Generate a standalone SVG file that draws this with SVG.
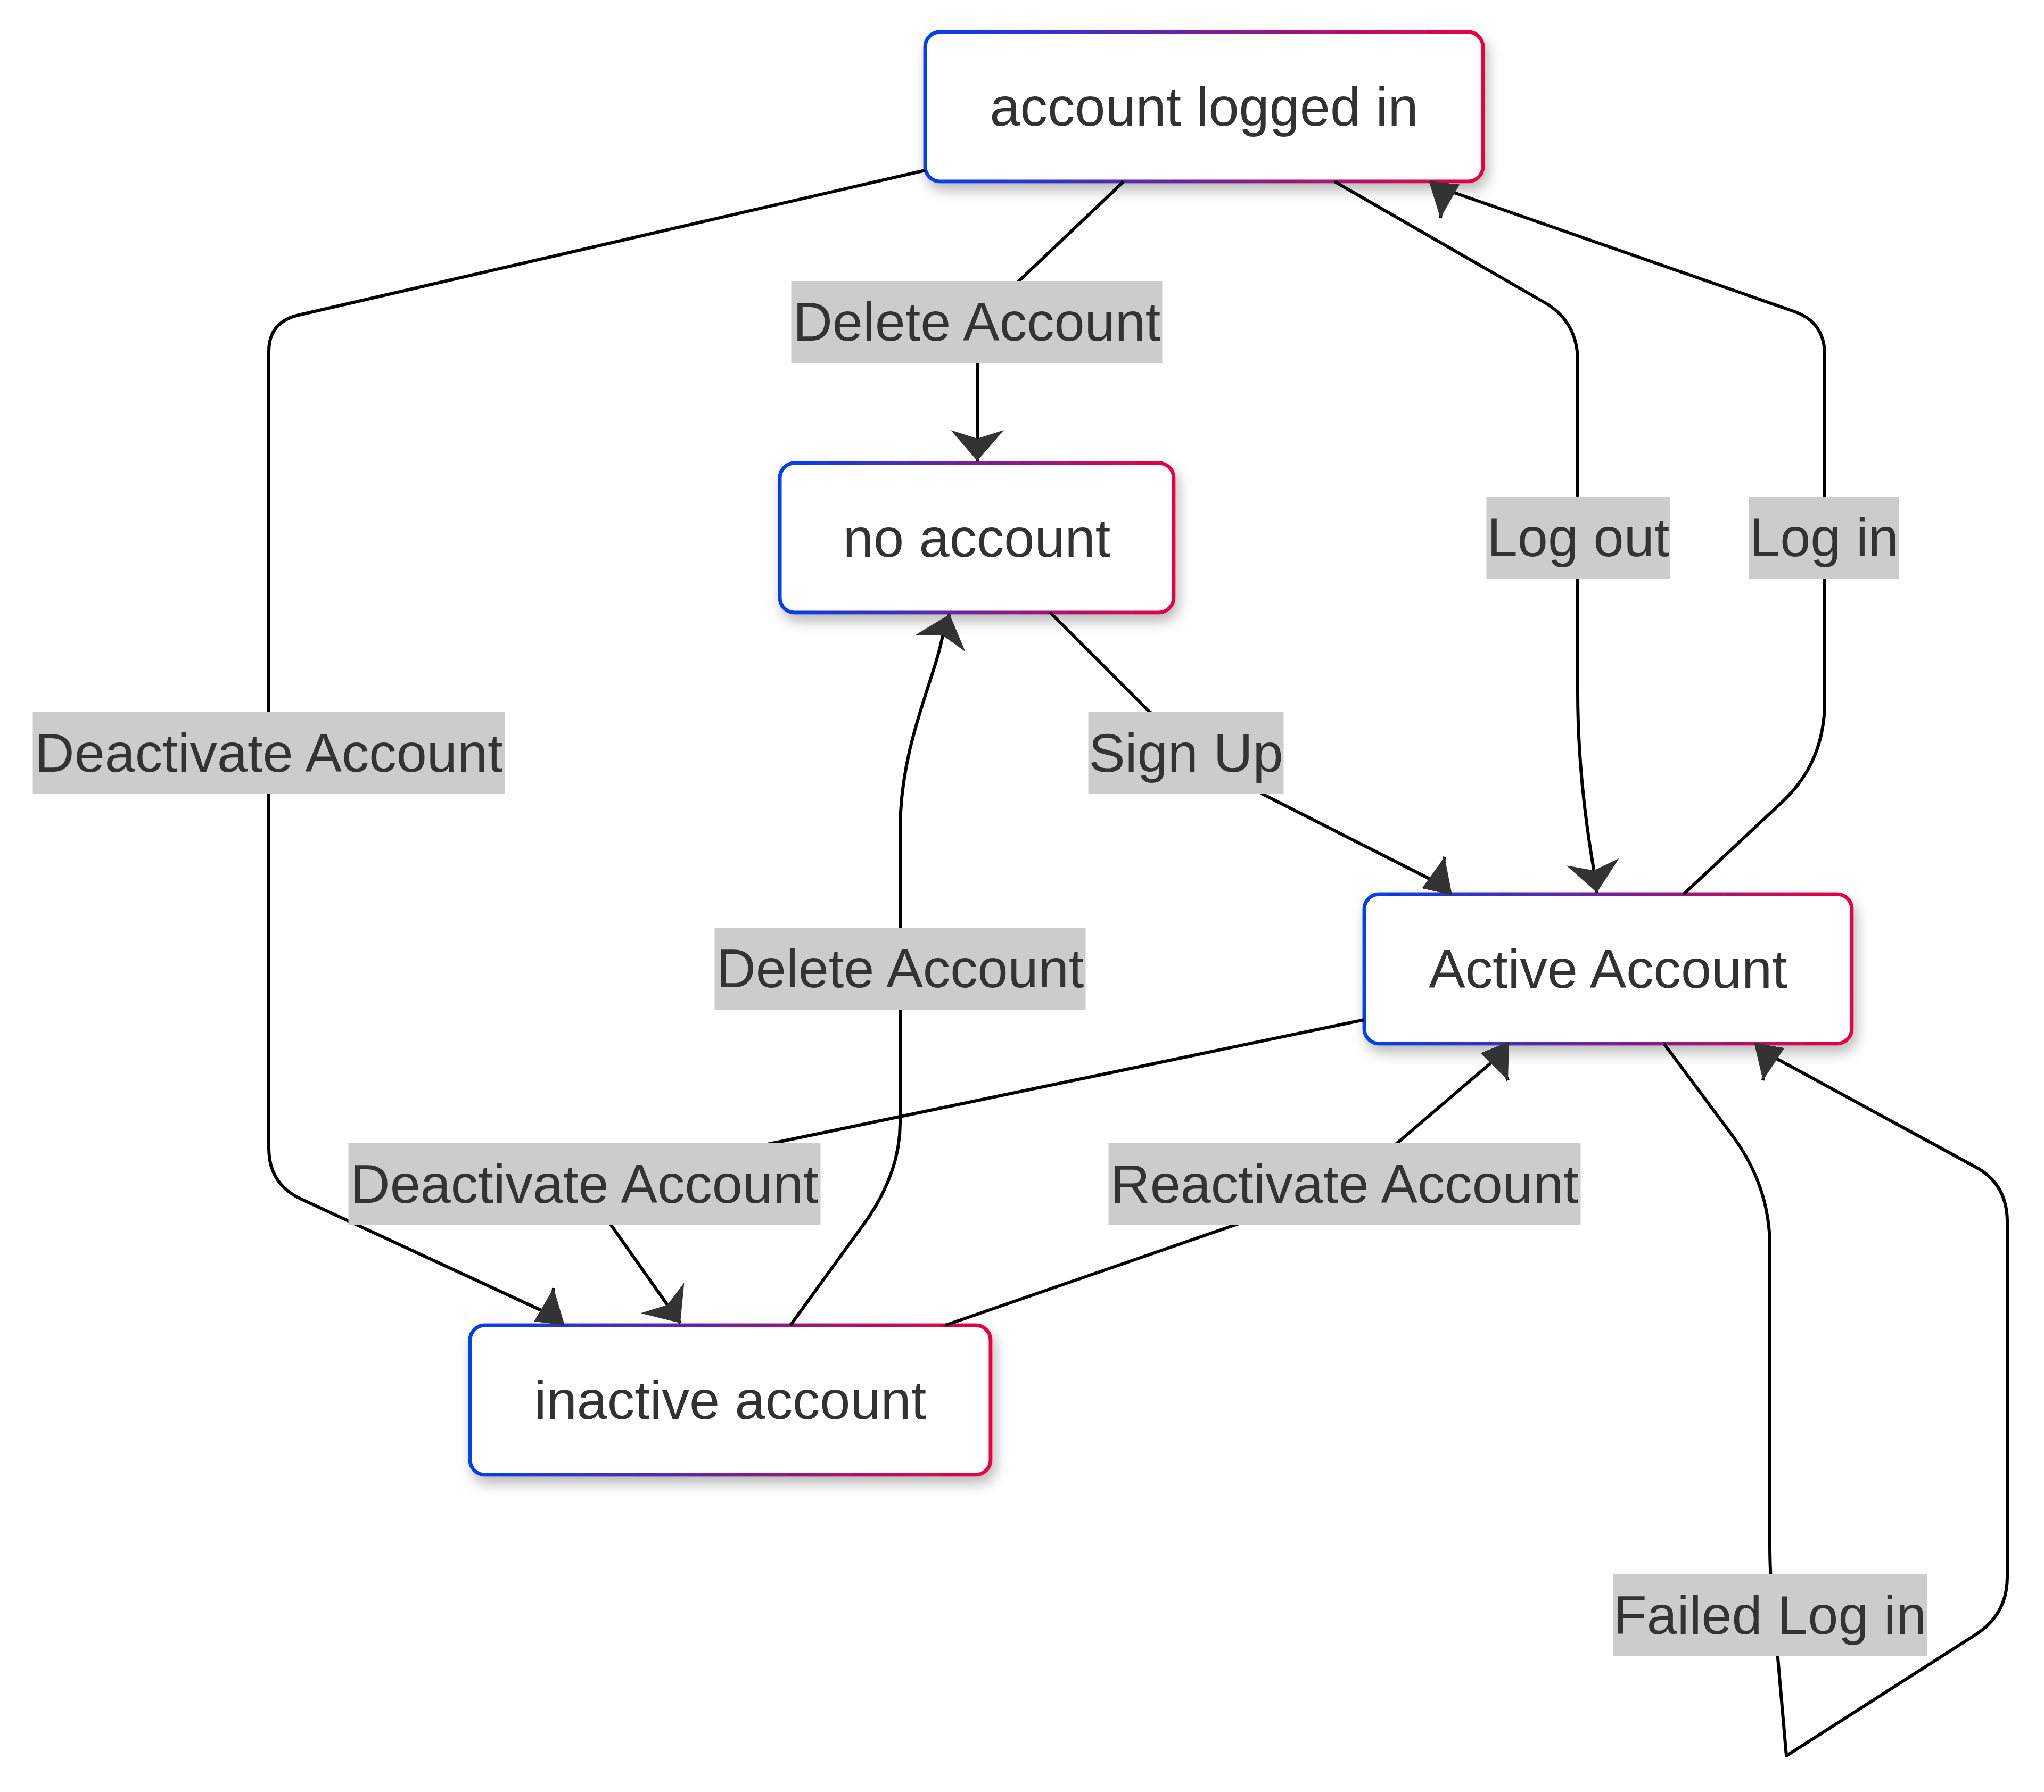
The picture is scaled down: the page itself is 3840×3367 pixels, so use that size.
<svg xmlns="http://www.w3.org/2000/svg" width="3840" height="3367" viewBox="0 0 3840 3367">
<style>
.edge{fill:none;stroke:#000;stroke-width:6;stroke-linejoin:round}
.fwd{marker-end:url(#barb)}
.rev{marker-end:url(#rev)}
.lbl-bg{fill:#cccccc}
.txt{font-family:"Liberation Sans",Arial,sans-serif;font-size:102.7px;fill:#333333;text-anchor:middle}
.node rect{fill:#ffffff;stroke:url(#grad);stroke-width:7}
.node{filter:url(#shadow)}
</style>
<defs>
<linearGradient id="grad" x1="0" y1="0" x2="1" y2="0">
<stop offset="0" stop-color="#0042eb"/>
<stop offset="1" stop-color="#eb0042"/>
</linearGradient>
<filter id="shadow" x="-10%" y="-20%" width="120%" height="160%">
<feDropShadow dx="6" dy="13" stdDeviation="12" flood-color="#b9b9b9" flood-opacity="1"/>
</filter>
<marker id="barb" viewBox="0 0 58 100" refX="58" refY="50" markerWidth="58" markerHeight="100" markerUnits="userSpaceOnUse" orient="auto">
<path d="M58,50 L0,100 L16,50 L0,0 Z" fill="#333333"/>
</marker>
<marker id="rev" viewBox="0 0 67 58" refX="67" refY="29" markerWidth="67" markerHeight="58" markerUnits="userSpaceOnUse" orient="auto">
<path d="M67,29 L0,58 L0,0 Z" fill="#333333"/>
</marker>
</defs>
<rect x="0" y="0" width="3840" height="3367" fill="#ffffff"/>
<g id="node-logged-in" class="node"><rect x="1738" y="60" width="1048" height="281" rx="28" ry="28"/><text class="txt" x="2262" y="236">account logged in</text></g>
<g id="node-no-account" class="node"><rect x="1465" y="870" width="740" height="281" rx="28" ry="28"/><text class="txt" x="1835" y="1046">no account</text></g>
<g id="node-active" class="node"><rect x="2563" y="1680" width="916" height="281" rx="28" ry="28"/><text class="txt" x="3021" y="1856">Active Account</text></g>
<g id="node-inactive" class="node"><rect x="883" y="2490" width="978" height="281" rx="28" ry="28"/><text class="txt" x="1372" y="2666">inactive account</text></g>
<g id="connectors">
<path id="e-deactivate-1" class="edge rev" d="M1738,320 L561,592 Q505,605 505,660 L505,2157 Q505,2225 566,2253 L1034,2470 L1040,2420"/>
<path id="e-delete-1" class="edge fwd" d="M2111,341 L1890,551 Q1836,602 1836,660 L1836,866"/>
<path id="e-logout" class="edge fwd" d="M2507,341 L2901,568 Q2964,604 2964,679 L2964,1300 C2964,1420 2978,1540 2994,1633 L3000,1677"/>
<path id="e-login" class="edge rev" d="M3163,1680 L3350,1505 Q3428,1431 3428,1318 L3428,667 Q3428,605 3370,585 L2712,355 L2706,410"/>
<path id="e-signup" class="edge rev" d="M1972,1150 L2159,1337 L2374,1493 L2703,1660 L2714,1610"/>
<path id="e-delete-2" class="edge fwd" d="M1485,2490 L1630,2290 Q1691,2200 1691,2110 L1691,1560 C1691,1400 1755,1280 1771,1194 L1784,1154"/>
<path id="e-deactivate-2" class="edge fwd" d="M2563,1916 L1250,2190 Q1092,2223 1115,2255 L1278,2486"/>
<path id="e-reactivate" class="edge rev" d="M1776,2490 L2440,2260 Q2529,2229 2580,2186 L2815,1985 L2833,2030"/>
<path id="e-failed" class="edge rev" d="M3126,1961 L3252,2130 Q3325,2227 3325,2342 L3325,2900 Q3325,2960 3330,3000 L3356,3299 L3712,3071 Q3771,3033 3771,2963 L3771,2296 Q3771,2225 3712,2193 L3321,1980 L3312,2030"/>
</g>
<g id="edge-labels">
<g id="l-deactivate-1"><rect class="lbl-bg" x="61.5" y="1338" width="887" height="154"/><text class="txt" x="505" y="1450">Deactivate Account</text></g>
<g id="l-delete-1"><rect class="lbl-bg" x="1486.5" y="528" width="697" height="154"/><text class="txt" x="1835" y="640">Delete Account</text></g>
<g id="l-logout"><rect class="lbl-bg" x="2792.5" y="933" width="345" height="154"/><text class="txt" x="2965" y="1045">Log out</text></g>
<g id="l-login"><rect class="lbl-bg" x="3286" y="933" width="282" height="154"/><text class="txt" x="3427" y="1045">Log in</text></g>
<g id="l-signup"><rect class="lbl-bg" x="2044.5" y="1338" width="367" height="154"/><text class="txt" x="2228" y="1450">Sign Up</text></g>
<g id="l-delete-2"><rect class="lbl-bg" x="1342.5" y="1743" width="697" height="154"/><text class="txt" x="1691" y="1855">Delete Account</text></g>
<g id="l-deactivate-2"><rect class="lbl-bg" x="654.5" y="2148" width="887" height="154"/><text class="txt" x="1098" y="2260">Deactivate Account</text></g>
<g id="l-reactivate"><rect class="lbl-bg" x="2082.5" y="2148" width="887" height="154"/><text class="txt" x="2526" y="2260">Reactivate Account</text></g>
<g id="l-failed"><rect class="lbl-bg" x="3030" y="2958" width="590" height="154"/><text class="txt" x="3325" y="3070">Failed Log in</text></g>
</g>
</svg>
